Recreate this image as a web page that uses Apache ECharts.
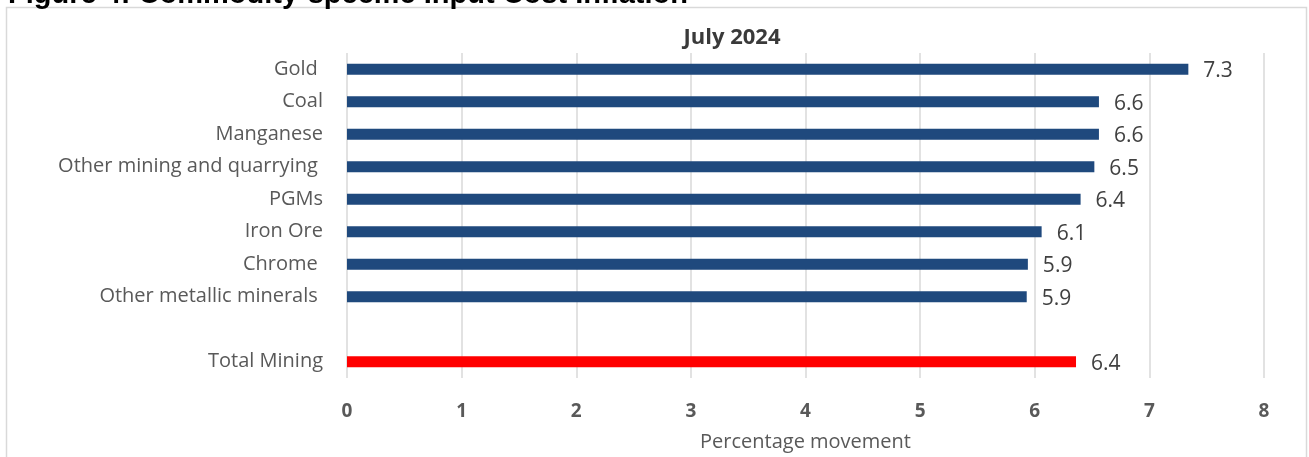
<!DOCTYPE html>
<html>
<head>
<meta charset="utf-8">
<script src="https://cdn.jsdelivr.net/npm/echarts@6/dist/echarts.min.js"></script>
<style>
html,body{margin:0;padding:0;background:#fff;}
#c{width:1309px;height:457px;}
</style>
</head>
<body>
<div id="c"></div>
<script>
var categories = ['Gold ', 'Coal', 'Manganese', 'Other mining and quarrying ', 'PGMs', 'Iron Ore', 'Chrome ', 'Other metallic minerals ', '', 'Total Mining'];
var values = [7.34, 6.56, 6.56, 6.52, 6.40, 6.06, 5.94, 5.93, null, 6.36];
var barColors = ['#1F497D', '#1F497D', '#1F497D', '#1F497D', '#1F497D', '#1F497D', '#1F497D', '#1F497D', '#1F497D', '#FF0000'];
var xTicks = [0, 1, 2, 3, 4, 5, 6, 7, 8];
var chartTitle = 'July 2024';
var figureCaption = 'Figure 4: Commodity-specific Input Cost Inflation';
var xAxisName = 'Percentage movement';

var chart = echarts.init(document.getElementById('c'), null, {renderer: 'canvas'});
var font = '"Open Sans", "Noto Sans", sans-serif';
chart.setOption({
  animation: false,
  backgroundColor: '#fff',
  graphic: [
    {type: 'rect', shape: {x: 6.5, y: 7.5, width: 1300, height: 460}, style: {fill: 'none', stroke: '#d9d9d9', lineWidth: 1.5}, z: -1},
    {type: 'text', left: 8, top: -20, style: {text: figureCaption, font: 'bold 29px "Liberation Sans", Arial, sans-serif', fill: '#000'}}
  ],
  title: {
    text: chartTitle,
    left: 727, top: 22, textAlign: 'center',
    textStyle: {fontFamily: font, fontWeight: 'bold', fontSize: 22, color: '#3a3a3a'}
  },
  grid: {left: 347, right: 45, top: 53, bottom: 79, containLabel: false},
  xAxis: {
    type: 'value', min: 0, max: 8, interval: 1,
    axisLine: {show: false}, axisTick: {show: false},
    splitLine: {show: true, lineStyle: {color: '#d9d9d9', width: 1.5}},
    axisLabel: {margin: 24, fontFamily: font, fontWeight: 'bold', fontSize: 19, color: '#595959',
      formatter: function (v) { return xTicks.indexOf(v) >= 0 ? String(v) : ''; }},
    name: xAxisName, nameLocation: 'middle', nameGap: 54,
    nameTextStyle: {fontFamily: font, fontSize: 20, color: '#595959'}
  },
  yAxis: {
    type: 'category', data: categories, inverse: true,
    axisLine: {show: false}, axisTick: {show: false},
    axisLabel: {margin: 24, fontFamily: font, fontSize: 20, color: '#595959'}
  },
  series: [{
    type: 'bar', barWidth: 11,
    data: values.map(function (v, i) { return {value: v, itemStyle: {color: barColors[i]}}; }),
    label: {show: true, position: 'right', distance: 15, offset: [0, 2], fontFamily: font, fontSize: 21, color: '#404040',
      formatter: function (p) { return p.value == null ? '' : p.value.toFixed(1); }}
  }]
});
</script>
</body>
</html>
